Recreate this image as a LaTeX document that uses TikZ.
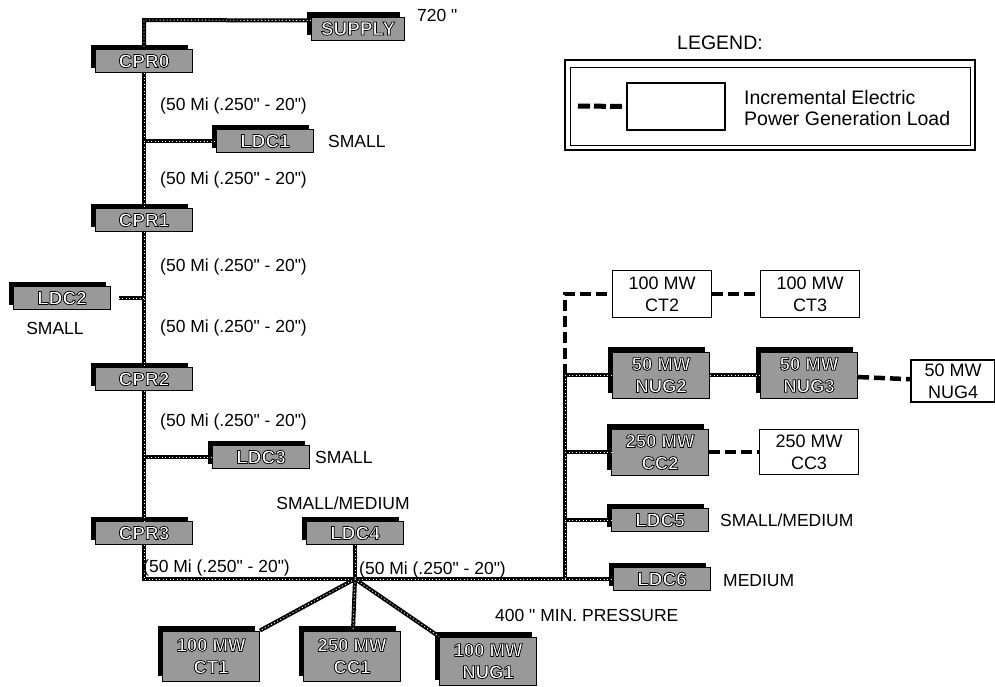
\documentclass[tikz,border=0pt]{standalone}
\usepackage{fontspec}
\setmainfont{Liberation Sans}[Ligatures=TeXOff]
\usetikzlibrary{shadows}
\newcommand\olt[1]{\textcolor{white}{\bfseries\special{pdf:literal direct 0 G 0.75 w 2 Tr}#1\special{pdf:literal direct 0 Tr}}}
\begin{document}
\begin{tikzpicture}[x=1pt,y=-1pt,
  sbox/.style={draw=black, line width=1pt, fill=black!40, minimum width=97pt, minimum height=23pt, inner sep=0pt, align=center, font=\fontsize{19}{22}\selectfont, general shadow={fill=black, shadow xshift=-5pt, shadow yshift=5pt}},
  tbox/.style={sbox, minimum height=46pt, font=\fontsize{18.5}{22}\selectfont},
  wbox/.style={draw=black, line width=1.2pt, fill=white, minimum width=99pt, minimum height=47pt, inner sep=0pt, align=center, font=\fontsize{18}{22}\selectfont},
  lbl/.style={font=\fontsize{17.5}{20}\selectfont, inner sep=0pt},
  pipe/.style={line width=4pt, black, postaction={draw=white, line width=0.9pt, dash pattern=on 1pt off 2.5pt}},
  incr/.style={line width=4.5pt, black, dash pattern=on 11pt off 5pt}
]
\useasboundingbox (0,0) rectangle (995,686);

% shaded nodes (existing)
\node[sbox, minimum width=93pt] (supply) at (358,28.5) {\olt{SUPPLY}};
\node[sbox] (cpr0) at (144,61) {\olt{CPR0}};
\node[sbox] (ldc1) at (265,141) {\olt{LDC1}};
\node[sbox] (cpr1) at (144,220) {\olt{CPR1}};
\node[sbox] (ldc2) at (62,298) {\olt{LDC2}};
\node[sbox] (cpr2) at (144,379) {\olt{CPR2}};
\node[sbox] (ldc3) at (261,457) {\olt{LDC3}};
\node[sbox] (cpr3) at (144,533) {\olt{CPR3}};
\node[sbox] (ldc4) at (355,533) {\olt{LDC4}};
\node[sbox] (ldc5) at (660,520) {\olt{LDC5}};
\node[sbox] (ldc6) at (662,579) {\olt{LDC6}};
\node[tbox] (nug2) at (661,375) {\olt{50 MW}\\\olt{NUG2}};
\node[tbox] (nug3) at (809,375) {\olt{50 MW}\\\olt{NUG3}};
\node[tbox] (cc2) at (660,452) {\olt{250 MW}\\\olt{CC2}};
\node[tbox, minimum height=50pt] (ct1) at (211,656) {\olt{100 MW}\\\olt{CT1}};
\node[tbox, minimum height=50pt] (cc1) at (352,656) {\olt{250 MW}\\\olt{CC1}};
\node[tbox, minimum height=48pt] (nug1) at (488,661) {\olt{100 MW}\\\olt{NUG1}};

% white nodes (incremental)
\node[wbox] (ct2) at (662,294) {100 MW\\CT2};
\node[wbox] (ct3) at (810,294) {100 MW\\CT3};
\node[wbox, minimum height=45pt] (cc3) at (809,452) {250 MW\\CC3};
\node[wbox, minimum width=84pt, minimum height=42pt] (nug4) at (953,381) {50 MW\\NUG4};

% trunk
\coordinate (top) at (144,20);
\draw[pipe] ([yshift=8pt]supply.west) -- (top) -- (cpr0.north);
\draw[pipe] (cpr0) -- (cpr1);
\draw[pipe] (cpr1) -- (cpr2);
\draw[pipe] (cpr2) -- (cpr3);
\draw[pipe] (cpr3) |- (ldc6);
\draw[pipe] (cpr0 |- ldc1) -- (ldc1);
\coordinate (ldc2e) at ([xshift=8pt]ldc2.east);
\draw[pipe] (cpr1 |- ldc2) -- (ldc2e);
\draw[pipe] (cpr2 |- ldc3) -- (ldc3);

% hub
\coordinate (hub) at (ldc4 |- ldc6);
\draw[pipe] (ldc4) -- (hub);
\draw[pipe] (hub) -- (ct1.north east);
\draw[pipe] (hub) -- (cc1);
\draw[pipe] (hub) -- (nug1.north west);

% right bus
\coordinate (bus) at (565,579);
\draw[pipe] (bus) -- (bus |- nug2);
\draw[pipe] (bus |- nug2) -- (nug2);
\draw[pipe] (bus |- cc2) -- (cc2);
\draw[pipe] (bus |- ldc5) -- (ldc5);
\draw[pipe] (nug2) -- (nug3);
\draw[incr] (bus |- nug2) |- (ct2);
\draw[incr] (ct2) -- (ct3);
\draw[incr] (nug3) -- (nug4);
\draw[incr] (cc2) -- (cc3);

% labels
\node[lbl, anchor=west] (t720) at (417,15) {720 "};
\node[lbl, anchor=west] (w1) at (160,106) {(50 Mi (.250" - 20")};
\node[lbl, anchor=west] (w2) at (160,180) {(50 Mi (.250" - 20")};
\node[lbl, anchor=west] (w3) at (160,267) {(50 Mi (.250" - 20")};
\node[lbl, anchor=west] (w4) at (160,328) {(50 Mi (.250" - 20")};
\node[lbl, anchor=west] (w5) at (160,422) {(50 Mi (.250" - 20")};
\node[lbl, anchor=west] (w6) at (143,568) {(50 Mi (.250" - 20")};
\node[lbl, anchor=west] (w7) at (359,570) {(50 Mi (.250" - 20")};
\node[lbl, anchor=west] (s1) at (328,141) {SMALL};
\node[lbl] (s2) at (55,328) {SMALL};
\node[lbl, anchor=west] (s3) at (315,457) {SMALL};
\node[lbl] (s4) at (343,503) {SMALL/MEDIUM};
\node[lbl, anchor=west] (s5) at (720,520) {SMALL/MEDIUM};
\node[lbl, anchor=west] (s6) at (723,581) {MEDIUM};
\node[lbl, anchor=west] (p400) at (495,615) {400 " MIN. PRESSURE};

% legend
\node[font=\fontsize{19.5}{22}\selectfont, inner sep=0pt] (leg) at (720,43) {LEGEND:};
\draw[line width=1.6pt] (565,60) rectangle (975,150);
\draw[line width=0.8pt] (570,67) rectangle (970,145);
\node[wbox, minimum width=98pt, minimum height=47pt] (lgbox) at (676,106.5) {};
\coordinate (lgs) at (578,106);
\draw[line width=5pt, dash pattern=on 12pt off 4pt] (lgs) -- (lgbox.west);
\node[anchor=west, align=left, inner sep=0pt, font=\fontsize{19.5}{21}\selectfont] (lgt) at (744,108) {Incremental Electric\\Power Generation Load};
\end{tikzpicture}
\end{document}
